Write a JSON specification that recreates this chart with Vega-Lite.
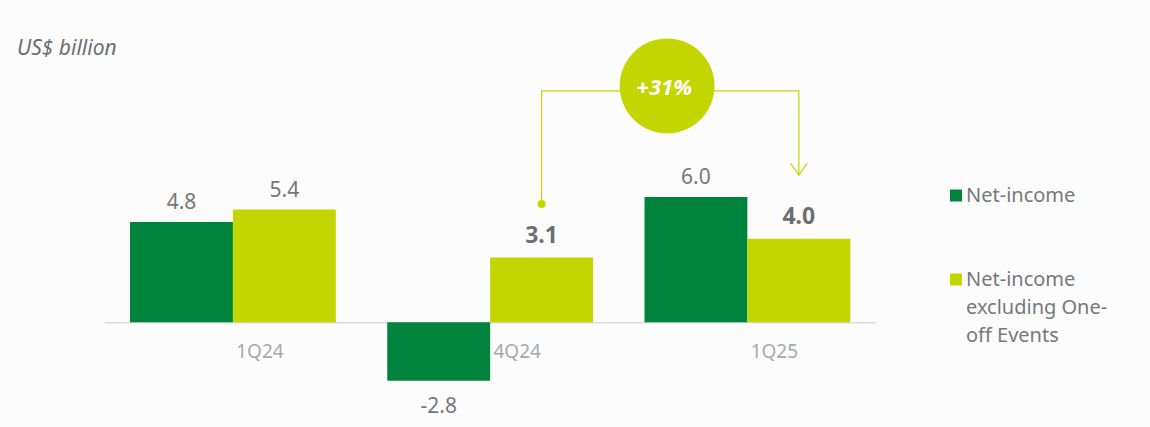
{
  "$schema": "https://vega.github.io/schema/vega-lite/v6.json",
  "width": 1150,
  "height": 427,
  "autosize": {"type": "none"},
  "padding": 0,
  "background": "#fcfcfc",
  "config": {"view": {"stroke": null}, "font": "Noto Sans",
    "locale": {"number": {"decimal": ".", "thousands": ",", "grouping": [3], "currency": ["$", ""], "minus": "-"}}},
  "title": {"text": "US$ billion", "anchor": "start", "frame": "group", "orient": "top", "offset": 0, "baseline": "alphabetic", "dx": 17, "dy": 76, "font": "Noto Sans", "fontSize": 21, "fontStyle": "italic", "fontWeight": "normal", "color": "#6d6e71"},
  "datasets": {
    "bars": [
      {"quarter": "1Q24", "series": "Net-income", "value": 4.8, "emph": "no"},
      {"quarter": "1Q24", "series": "Net-income excluding One-off Events", "value": 5.4, "emph": "no"},
      {"quarter": "4Q24", "series": "Net-income", "value": -2.8, "emph": "no"},
      {"quarter": "4Q24", "series": "Net-income excluding One-off Events", "value": 3.1, "emph": "yes"},
      {"quarter": "1Q25", "series": "Net-income", "value": 6.0, "emph": "no"},
      {"quarter": "1Q25", "series": "Net-income excluding One-off Events", "value": 4.0, "emph": "yes"}
    ],
    "connector": [
      {"quarter": "4Q24", "value": 5.67, "step": 1},
      {"quarter": "4Q24", "value": 11.08, "step": 2},
      {"quarter": "1Q25", "value": 11.08, "step": 3},
      {"quarter": "1Q25", "value": 7.05, "step": 4}
    ],
    "badge": [{"quarter": "1Q25", "value": 11.32, "label": "+31%"}]
  },
  "layer": [
    {
      "data": {"name": "bars"},
      "mark": {"type": "bar"},
      "encoding": {
        "x": {"field": "quarter", "type": "nominal", "sort": null,
          "scale": {"domain": ["1Q24", "4Q24", "1Q25"], "range": [104.3, 876], "paddingInner": 0.2, "paddingOuter": 0.1},
          "axis": {"title": null, "orient": "bottom", "offset": -104.7, "ticks": false, "tickSize": 0, "domainColor": "#cccccc", "domainWidth": 1, "labelAngle": 0, "labelOffset": 27, "labelPadding": 20, "labelBaseline": "top", "labelFont": "Noto Sans", "labelFontSize": 19, "labelColor": "#a7a9ac", "grid": false}},
        "xOffset": {"field": "series", "type": "nominal", "scale": {"domain": ["Net-income", "Net-income excluding One-off Events"], "paddingInner": 0, "paddingOuter": 0}},
        "y": {"field": "value", "type": "quantitative", "scale": {"domain": [-5.014, 15.436], "nice": false, "zero": false}, "axis": null},
        "color": {"field": "series", "type": "nominal",
          "scale": {"domain": ["Net-income", "Net-income excluding One-off Events"], "range": ["#00843D", "#C4D600"]},
          "legend": {"title": null, "orient": "none", "legendX": 946, "legendY": 185.5, "padding": 0, "symbolType": "square", "symbolSize": 144, "symbolStrokeWidth": 0, "labelOffset": 0, "labelFont": "Noto Sans", "labelFontSize": 20, "labelColor": "#77787b", "labelLimit": 400, "labelBaseline": "middle", "rowPadding": 64,
            "encode": {"labels": {"update": {"lineHeight": {"value": 28}}}},
            "labelExpr": "datum.label == 'Net-income excluding One-off Events' ? ['Net-income', 'excluding One-', 'off Events'] : datum.label"}}
      }
    },
    {
      "data": {"name": "bars"},
      "transform": [{"filter": "datum.emph == 'no' && datum.value >= 0"}],
      "mark": {"type": "text", "baseline": "alphabetic", "dy": -13, "fontSize": 21, "color": "#76787b"},
      "encoding": {
        "x": {"field": "quarter", "type": "nominal"},
        "xOffset": {"field": "series", "type": "nominal"},
        "y": {"field": "value", "type": "quantitative"},
        "text": {"field": "value", "type": "quantitative", "format": ".1f"}
      }
    },
    {
      "data": {"name": "bars"},
      "transform": [{"filter": "datum.value < 0"}],
      "mark": {"type": "text", "baseline": "alphabetic", "dy": 32, "fontSize": 21, "color": "#76787b"},
      "encoding": {
        "x": {"field": "quarter", "type": "nominal"},
        "xOffset": {"field": "series", "type": "nominal"},
        "y": {"field": "value", "type": "quantitative"},
        "text": {"field": "value", "type": "quantitative", "format": ".1f"}
      }
    },
    {
      "data": {"name": "bars"},
      "transform": [{"filter": "datum.emph == 'yes'"}],
      "mark": {"type": "text", "baseline": "alphabetic", "dy": -15, "fontSize": 23, "fontWeight": "bold", "color": "#6d6e71"},
      "encoding": {
        "x": {"field": "quarter", "type": "nominal"},
        "xOffset": {"field": "series", "type": "nominal"},
        "y": {"field": "value", "type": "quantitative"},
        "text": {"field": "value", "type": "quantitative", "format": ".1f"}
      }
    },
    {
      "data": {"name": "connector"},
      "mark": {"type": "line", "color": "#C4D600", "strokeWidth": 1.2},
      "encoding": {
        "x": {"field": "quarter", "type": "nominal", "bandPosition": 0.75},
        "y": {"field": "value", "type": "quantitative"},
        "order": {"field": "step", "type": "quantitative"}
      }
    },
    {
      "data": {"name": "connector"},
      "transform": [{"filter": "datum.step == 1"}],
      "mark": {"type": "point", "filled": true, "color": "#C4D600", "size": 64, "opacity": 1},
      "encoding": {
        "x": {"field": "quarter", "type": "nominal", "bandPosition": 0.75},
        "y": {"field": "value", "type": "quantitative"}
      }
    },
    {
      "data": {"name": "connector"},
      "transform": [{"filter": "datum.step == 4"}],
      "mark": {"type": "point", "filled": false, "stroke": "#C4D600", "strokeWidth": 1.2, "shape": "M -0.7 -1 L 0 0 L 0.7 -1", "size": 576, "opacity": 1},
      "encoding": {
        "x": {"field": "quarter", "type": "nominal", "bandPosition": 0.75},
        "y": {"field": "value", "type": "quantitative"}
      }
    },
    {
      "data": {"name": "badge"},
      "mark": {"type": "point", "shape": "circle", "filled": true, "color": "#C4D600", "size": 8992, "opacity": 1},
      "encoding": {
        "x": {"field": "quarter", "type": "nominal", "bandPosition": 0.11},
        "y": {"field": "value", "type": "quantitative"}
      }
    },
    {
      "data": {"name": "badge"},
      "mark": {"type": "text", "align": "center", "baseline": "middle", "dy": 2, "dx": -3, "fontSize": 22, "fontWeight": "bold", "fontStyle": "italic", "color": "#ffffff"},
      "encoding": {
        "x": {"field": "quarter", "type": "nominal", "bandPosition": 0.11},
        "y": {"field": "value", "type": "quantitative"},
        "text": {"field": "label", "type": "nominal"}
      }
    }
  ]
}
